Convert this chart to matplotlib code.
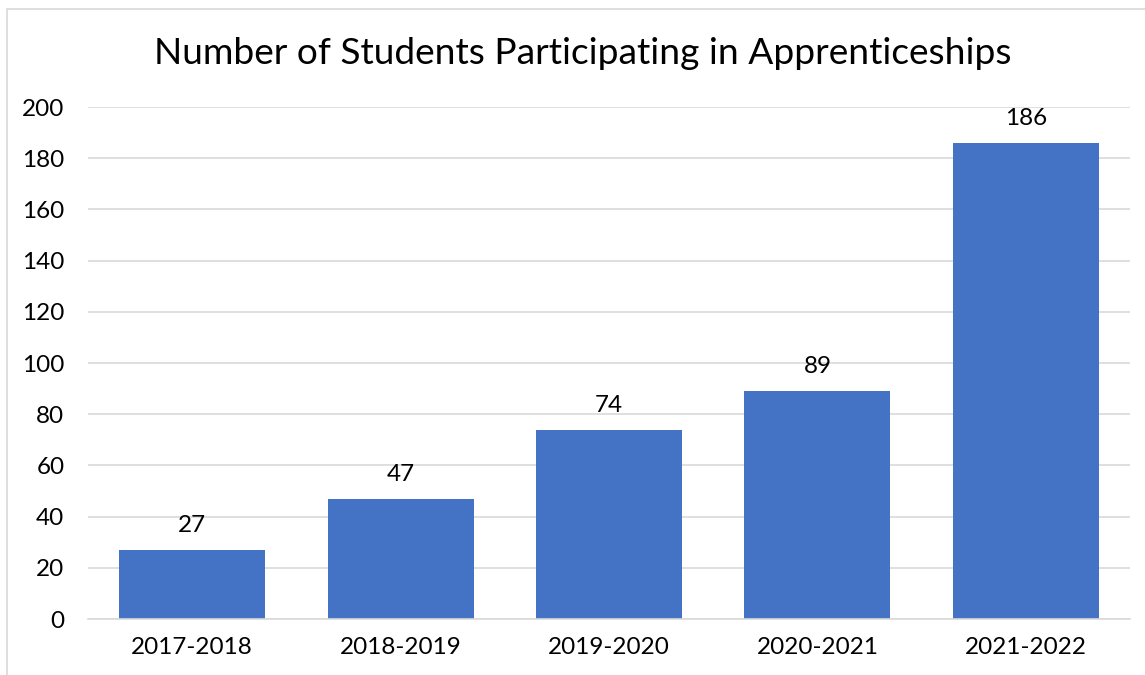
import matplotlib
matplotlib.use("Agg")
import matplotlib.pyplot as plt
from matplotlib.patches import Rectangle

categories = ["2017-2018", "2018-2019", "2019-2020", "2020-2021", "2021-2022"]
values = [27, 47, 74, 89, 186]
yticks = [0, 20, 40, 60, 80, 100, 120, 140, 160, 180, 200]

plt.rcParams['font.family'] = ['Lato', 'DejaVu Sans']

W, H = 1145, 675
fig = plt.figure(figsize=(W/100, H/100), dpi=100)
fig.patch.set_facecolor('white')

# chart area border
fig.add_artist(Rectangle((7/W, -0.1), 1.2, (H-9)/H + 0.1, transform=fig.transFigure,
                         fill=False, edgecolor='#d9d9d9', linewidth=1.2))

ax = fig.add_axes([88/W, (H-619)/H, (1130-88)/W, (619-107)/H])
x = range(len(categories))
bars = ax.bar(x, values, width=0.7, color='#4472c4', zorder=2)
ax.set_xlim(-0.5, len(categories)-0.5)
ax.set_ylim(0, 200)
ax.set_yticks(yticks)
ax.set_xticks(list(x))
ax.set_xticklabels(categories)
ax.tick_params(axis='both', length=0, labelsize=17.5, colors='#000000')
ax.tick_params(axis='y', pad=17)
ax.tick_params(axis='x', pad=13)
ax.grid(axis='y', color='#d9d9d9', linewidth=1.2, zorder=0)
ax.set_axisbelow(True)
for s in ['top', 'right', 'left']:
    ax.spines[s].set_visible(False)
ax.spines['bottom'].set_color('#d9d9d9')
ax.spines['bottom'].set_linewidth(1.2)

for xi, v in zip(x, values):
    ax.annotate(str(v), (xi, v), xytext=(0, 10), textcoords='offset points',
                ha='center', va='bottom', fontsize=17.5, color='#000000')

fig.text(583/W, (H-54)/H, "Number of Students Participating in Apprenticeships",
         ha='center', va='center', fontsize=26.7, color='#000000')

fig.savefig("out.png", dpi=100)
